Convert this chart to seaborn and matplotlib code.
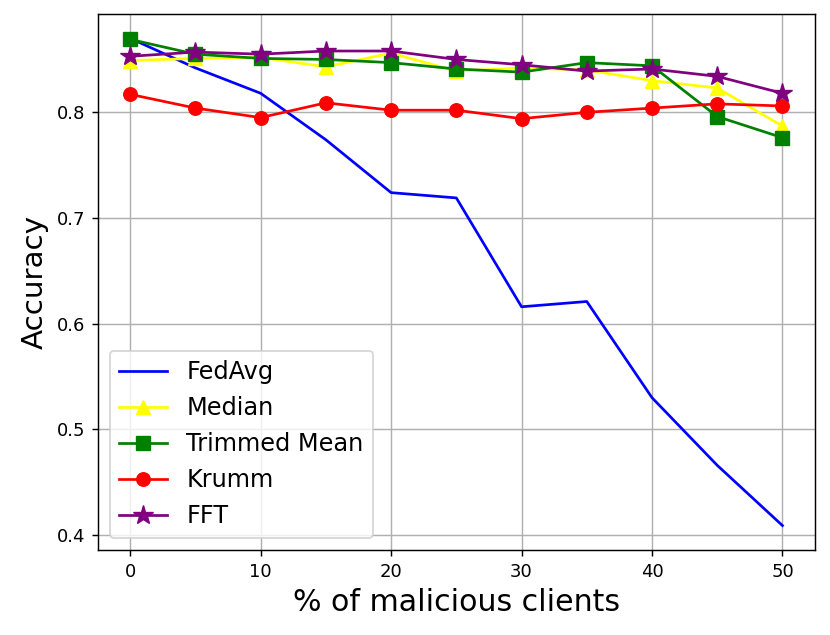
import seaborn as sns
import pandas as pd
import numpy as np
import matplotlib.pyplot as plt


malicious = [0, 5, 10, 15, 20, 25, 30, 35, 40, 45, 50]
fedavg = [0.870, 0.842, 0.818, 0.774, 0.724, 0.719, 0.616, 0.621, 0.530, 0.466, 0.409]
median = [0.849, 0.851, 0.852, 0.843, 0.856, 0.839, 0.842, 0.840, 0.830, 0.823, 0.787]
trimmed_mean = [0.869, 0.855, 0.851, 0.850, 0.847, 0.841, 0.838, 0.847, 0.844, 0.796, 0.776]
krumm = [0.817, 0.804, 0.795, 0.809, 0.802, 0.802, 0.794, 0.800, 0.804, 0.808, 0.806]
fft = [0.853, 0.857, 0.855, 0.858, 0.858, 0.850, 0.845, 0.839, 0.841, 0.834, 0.818]

series = [
    ('FedAvg', fedavg, 'blue', None, 7),
    ('Median', median, 'yellow', '^', 8),
    ('Trimmed Mean', trimmed_mean, 'green', 's', 8),
    ('Krumm', krumm, 'red', 'o', 7.5),
    ('FFT', fft, 'purple', '*', 11.5),
]

df = pd.DataFrame({'pct': malicious})

fig, ax = plt.subplots(figsize=(830 / 130, 635 / 130), dpi=130)
fig.subplots_adjust(left=0.1176, right=0.982, bottom=0.134, top=0.978)

for label, vals, color, marker, ms in series:
    df[label] = vals
    sns.lineplot(data=df, x='pct', y=label, ax=ax, label=label, color=color,
                 marker=marker, markersize=ms, markeredgecolor=color, linewidth=1.5)

ax.grid(True)
ax.set_xlabel('% of malicious clients', fontsize=16.6)
ax.set_ylabel('Accuracy', fontsize=16.3)
ax.tick_params(labelsize=10)
ax.legend(loc='lower left', fontsize=13.3)

fig.savefig('out.png', dpi=130)
